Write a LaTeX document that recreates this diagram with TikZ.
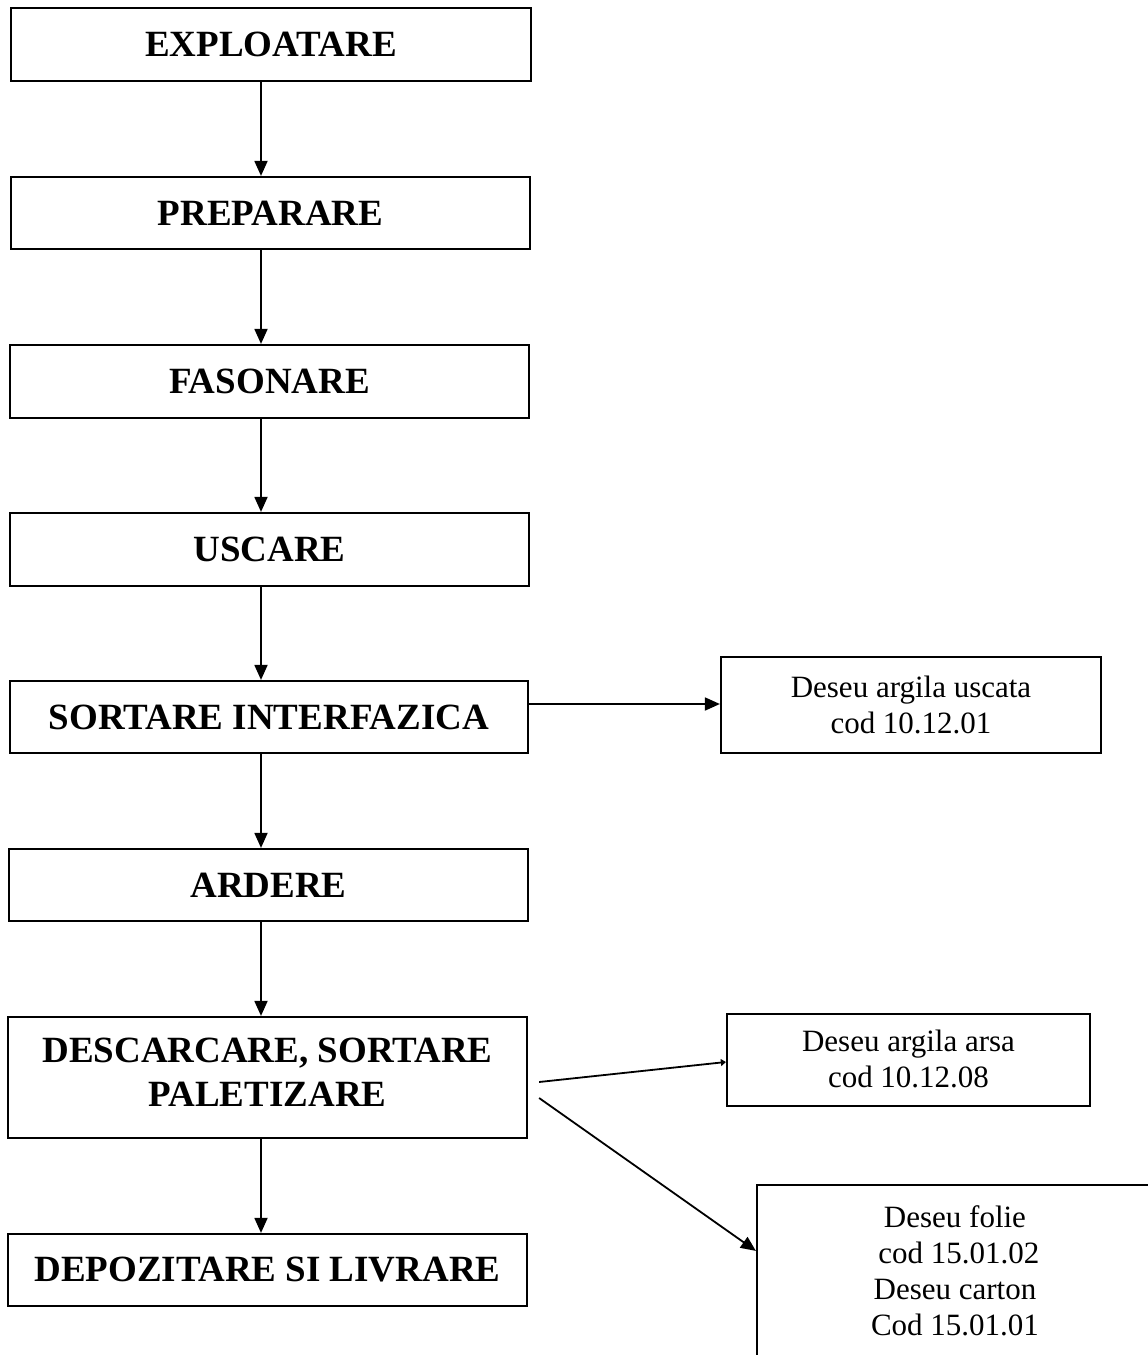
\documentclass[tikz,border=0pt]{standalone}
\usepackage{fontspec}
\setmainfont{Liberation Serif}
\usetikzlibrary{arrows.meta,calc}

\begin{document}
\begin{tikzpicture}[x=1pt,y=-1pt,
  stage/.style={draw,line width=2.2pt,minimum width=519pt,minimum height=72pt,
    inner sep=0pt,align=center,font=\fontsize{37}{44}\selectfont\bfseries},
  waste/.style={draw,line width=2.2pt,inner sep=0pt,align=center,
    font=\fontsize{31}{36}\selectfont},
  flow/.style={line width=1.8pt,-{Triangle[length=15pt,width=13pt]}},
  thin flow/.style={line width=1.8pt,-{Triangle[length=5pt,width=7pt]}}]

  \clip (0,0) rectangle (1148,1355);
  \fill[white] (0,0) rectangle (1148,1355);

  % process stages
  \node[stage,minimum width=520pt,minimum height=73pt] (expl) at (271,44.5) {EXPLOATARE};
  \node[stage] (prep) at (270.5,213) {PREPARARE};
  \node[stage,minimum height=73pt] (fas) at (269.5,381.5) {FASONARE};
  \node[stage,minimum height=73pt] (usc) at (269.5,549.5) {USCARE};
  \node[stage,minimum width=518pt] (sort) at (269,717) {SORTARE INTERFAZICA};
  \node[stage] (ard) at (268.5,885) {ARDERE};
  \node[stage,minimum height=121pt,text depth=10pt] (desc) at (267.5,1077.5)
    {DESCARCARE, SORTARE\\PALETIZARE};
  \node[stage] (dep) at (267.5,1270) {DEPOZITARE SI LIVRARE};

  % waste outputs
  \node[waste,minimum width=380pt,minimum height=96pt] (uscata) at (911,705)
    {Deseu argila uscata\\cod 10.12.01};
  \node[waste,minimum width=363pt,minimum height=92pt,text depth=3pt] (arsa) at (908.5,1060)
    {Deseu argila arsa\\cod 10.12.08};
  \node[waste,minimum width=396pt,minimum height=172pt] (folie) at (955,1271)
    {Deseu folie\\\ cod 15.01.02\\Deseu carton\\Cod 15.01.01};

  % main flow line
  \coordinate (spine) at (261,0);
  \coordinate (ua) at (0,704);
  \draw[flow] (expl.south -| spine) -- (prep.north -| spine);
  \draw[flow] (prep.south -| spine) -- (fas.north -| spine);
  \draw[flow] (fas.south -| spine) -- (usc.north -| spine);
  \draw[flow] (usc.south -| spine) -- (sort.north -| spine);
  \draw[flow] (sort.south -| spine) -- (ard.north -| spine);
  \draw[flow] (ard.south -| spine) -- (desc.north -| spine);
  \draw[flow] (desc.south -| spine) -- (dep.north -| spine);

  % waste branches
  \draw[flow] (sort.east |- ua) -- (uscata.west |- ua);
  \draw[thin flow] ($(desc.east)+(11,4.5)$) -- ($(arsa.west)+(0,2)$);
  \draw[flow] ($(desc.east)+(11,20.5)$) -- ($(folie.north west)+(0,67)$);
\end{tikzpicture}
\end{document}
